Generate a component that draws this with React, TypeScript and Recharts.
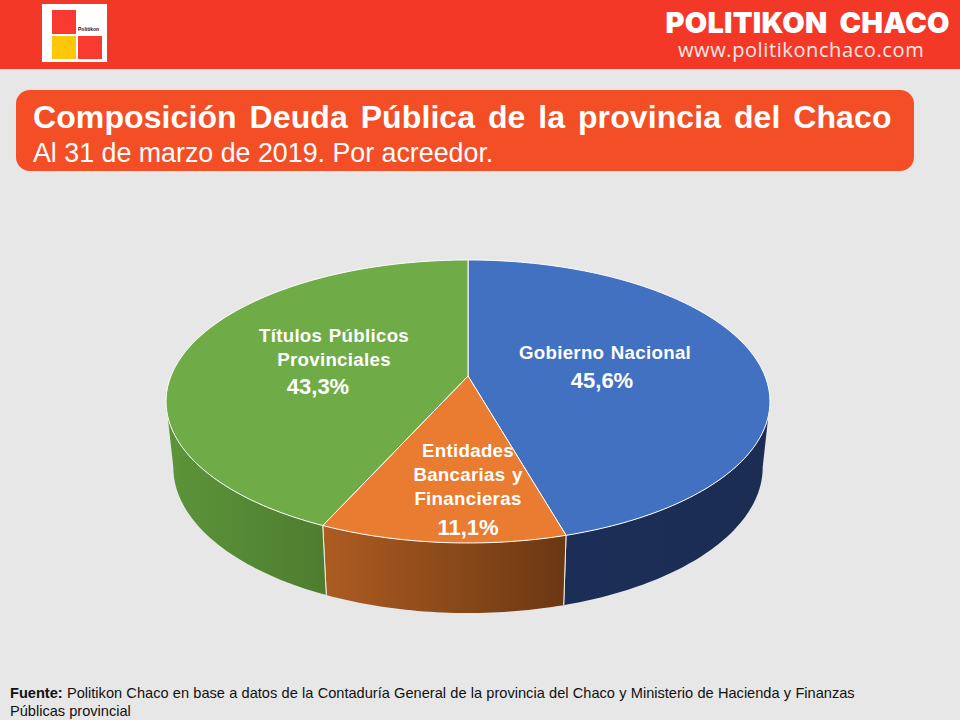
import React from "react";
import { PieChart, Pie, Cell } from "recharts";

const categories = ["Gobierno Nacional", "Entidades Bancarias y Financieras", "Títulos Públicos Provinciales"];
const shares = [45.6, 11.1, 43.3];
const labelLines = [["Gobierno Nacional"], ["Entidades", "Bancarias y", "Financieras"], ["Títulos Públicos", "Provinciales"]];
const percentLabels = ["45,6%", "11,1%", "43,3%"];
const topColors = ["#4371C2", "#E97C30", "#6FAC47"];
const sideGradients = [["#1B2E57", "#1B2D52"], ["#AE5C22", "#6B3812"], ["#5C9439", "#4E7D30"]];
const sideGradientSpans = [[560, 770], [322, 565], [170, 325]];

const data = categories.map((name, i) => ({ name, value: shares[i] }));

// layout: label line centres (x, first baseline y), percent centre (x, baseline y)
const labelLayout = [
  { x: 605, y: 359, px: 602, py: 388 },
  { x: 468, y: 457, px: 468, py: 535 },
  { x: 334, y: 342, px: 318, py: 394 },
];

const PERSPECTIVE = 0.18;
const TOP_Y_SCALE = 0.461;
const BOTTOM = { dy: 65, rx: 0.976, ry: 0.475 };
const FRONT_FROM = (Math.acos(-PERSPECTIVE) * 180) / Math.PI;
const FRONT_TO = 360 - FRONT_FROM;

function project(cx: number, cy: number, rx: number, ry: number, theta: number) {
  const t = (theta * Math.PI) / 180;
  const u = Math.sin(t);
  const v = -Math.cos(t);
  const d = 1 - PERSPECTIVE * v;
  return [cx + (rx * u) / d, cy + (ry * v) / d];
}

function arcPoints(cx: number, cy: number, rx: number, ry: number, from: number, to: number) {
  const pts: number[][] = [];
  for (let a = from; a < to; a += 1) pts.push(project(cx, cy, rx, ry, a));
  pts.push(project(cx, cy, rx, ry, to));
  return pts;
}

const toPath = (pts: number[][]) => pts.map((p, i) => `${i ? "L" : "M"}${p[0].toFixed(2)},${p[1].toFixed(2)}`).join(" ");

function Slice3D(props: any) {
  const { cx, cy, outerRadius, startAngle, endAngle, fill, index } = props;
  const from = 90 - startAngle;
  const to = 90 - endAngle;
  const R = outerRadius;
  const topRy = R * TOP_Y_SCALE;
  const botRx = R * BOTTOM.rx;
  const botRy = R * BOTTOM.ry;
  const botCy = cy + BOTTOM.dy;
  const top = arcPoints(cx, cy, R, topRy, from, to);
  const sFrom = Math.max(from, FRONT_FROM);
  const sTo = Math.min(to, FRONT_TO);
  const hasSide = sTo > sFrom;
  const id = `side-${index}`;
  const seam = (a: number) => {
    const p = project(cx, cy, R, topRy, a);
    const q = project(cx, botCy, botRx, botRy, a);
    return <line x1={p[0]} y1={p[1]} x2={q[0]} y2={q[1]} stroke="#F2EDE6" strokeWidth={1} />;
  };
  return (
    <g>
      <defs>
        <linearGradient id={id} gradientUnits="userSpaceOnUse" x1={sideGradientSpans[index][0]} x2={sideGradientSpans[index][1]} y1={0} y2={0}>
          <stop offset="0" stopColor={sideGradients[index][0]} />
          <stop offset="1" stopColor={sideGradients[index][1]} />
        </linearGradient>
      </defs>
      {hasSide && (
        <path
          d={`${toPath(arcPoints(cx, cy, R, topRy, sFrom, sTo))} ${toPath(arcPoints(cx, botCy, botRx, botRy, sFrom, sTo).reverse()).replace("M", "L")} Z`}
          fill={`url(#${id})`}
        />
      )}
      {hasSide && from >= FRONT_FROM && from <= FRONT_TO && seam(from)}
      {hasSide && to >= FRONT_FROM && to <= FRONT_TO && seam(to)}
      <path d={`M${cx},${cy} ${toPath(top).replace("M", "L")} Z`} fill={fill} stroke="#FFFFFF" strokeWidth={1} strokeLinejoin="round" />
    </g>
  );
}

function SliceLabel(props: any) {
  const i = props.index;
  const l = labelLayout[i];
  const common = { fill: "#FFFFFF", fontFamily: "'Liberation Sans', Arial, sans-serif", fontWeight: 700, textAnchor: "middle" as const };
  return (
    <g>
      {labelLines[i].map((t, k) => (
        <text key={t} x={l.x} y={l.y + k * 24} fontSize={18.7} wordSpacing={1} letterSpacing={0.3} {...common}>
          {t}
        </text>
      ))}
      <text x={l.px} y={l.py} fontSize={22} {...common}>
        {percentLabels[i]}
      </text>
    </g>
  );
}

const abs = (o: React.CSSProperties): React.CSSProperties => ({ position: "absolute", whiteSpace: "nowrap", ...o });
const SANS = "'Liberation Sans', Arial, sans-serif";

export default function App() {
  return (
    <div style={abs({ left: 0, top: 0, width: 960, height: 720, background: "#E7E7E7", overflow: "hidden", fontFamily: SANS })}>
      <div style={abs({ left: 0, top: 0, width: 960, height: 69, background: "#F33828" })} />
      <div style={abs({ left: 42, top: 4, width: 65, height: 58, background: "#FFFFFF" })} />
      <div style={abs({ left: 52, top: 10, width: 24, height: 24, background: "#F93A30" })} />
      <div style={abs({ left: 52, top: 36, width: 24, height: 23, background: "#FFC709" })} />
      <div style={abs({ left: 78, top: 36, width: 24, height: 23, background: "#F93A30" })} />
      <div style={abs({ left: 78, top: 26, fontSize: 5, fontWeight: 700, color: "#222222", lineHeight: "6px" })}>Politikon</div>
      <div style={abs({ left: 665.5, top: 10, width: 285, fontFamily: "Inter, sans-serif", fontWeight: 900, fontSize: 29, lineHeight: "26px", color: "#FFFFFF", letterSpacing: 0.2, wordSpacing: 6 })}>POLITIKON CHACO</div>
      <div style={abs({ left: 678, top: 38, fontFamily: "'Open Sans', sans-serif", fontSize: 20, lineHeight: "24px", color: "#FBE9E4", letterSpacing: 0.6 })}>www.politikonchaco.com</div>

      <div style={abs({ left: 16, top: 90, width: 898, height: 81, borderRadius: 14, background: "#F44E27" })} />
      <div style={abs({ left: 33, top: 99, fontSize: 32, fontWeight: 700, lineHeight: "36px", color: "#FFFFFF", wordSpacing: 3.8, letterSpacing: 0.1 })}>Composición Deuda Pública de la provincia del Chaco</div>
      <div style={abs({ left: 33, top: 138, fontSize: 26.8, lineHeight: "30px", color: "#FFFFFF" })}>Al 31 de marzo de 2019. Por acreedor.</div>

      <div style={abs({ left: 0, top: 0 })}>
        <PieChart width={960} height={720} margin={{ top: 0, right: 0, bottom: 0, left: 0 }}>
          <Pie
            data={data}
            dataKey="value"
            nameKey="name"
            cx={468}
            cy={376}
            outerRadius={297}
            startAngle={90}
            endAngle={-270}
            stroke="none"
            isAnimationActive={false}
            shape={Slice3D}
            label={SliceLabel}
            labelLine={false}
          >
            {data.map((d, i) => (
              <Cell key={d.name} fill={topColors[i]} />
            ))}
          </Pie>
        </PieChart>
      </div>

      <div style={abs({ left: 10, top: 685, fontSize: 14.6, lineHeight: "17px", color: "#111111", wordSpacing: 0.2 })}>
        <b>Fuente:</b> Politikon Chaco en base a datos de la Contaduría General de la provincia del Chaco y Ministerio de Hacienda y Finanzas
      </div>
      <div style={abs({ left: 10, top: 703, fontSize: 14.6, lineHeight: "17px", color: "#111111" })}>Públicas provincial</div>
    </div>
  );
}
